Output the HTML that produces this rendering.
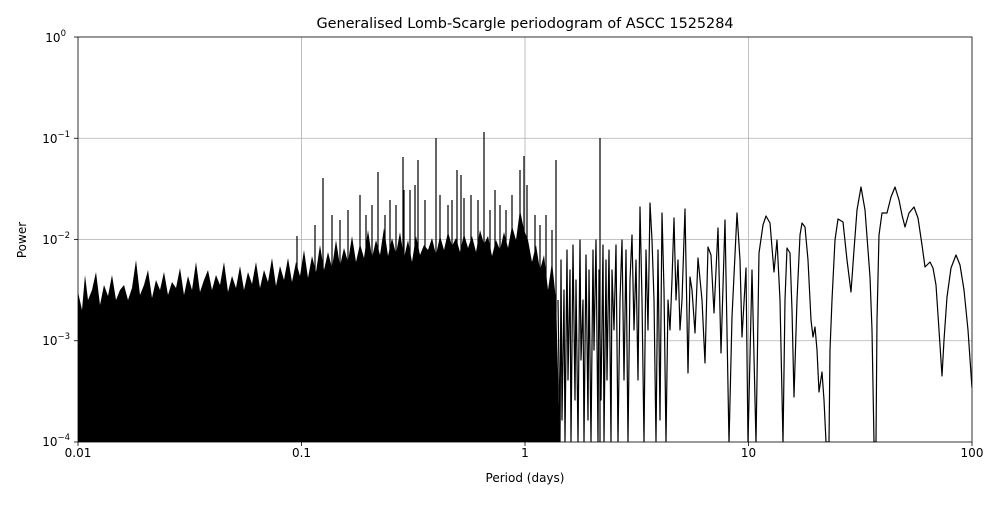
<!DOCTYPE html>
<html><head><meta charset="utf-8"><style>
body{margin:0;background:#fff}
svg text{font-family:"DejaVu Sans","Liberation Sans",sans-serif;font-size:12px;fill:#000}
</style></head><body>
<svg width="1000" height="500" xmlns="http://www.w3.org/2000/svg">
<rect width="1000" height="500" fill="#fff"/>
<g stroke="#b0b0b0" stroke-width="0.8">
<line x1="301.5" y1="37" x2="301.5" y2="442"/><line x1="525" y1="37" x2="525" y2="442"/><line x1="748.5" y1="37" x2="748.5" y2="442"/>
<line x1="78" y1="138.25" x2="972" y2="138.25"/><line x1="78" y1="239.5" x2="972" y2="239.5"/><line x1="78" y1="340.75" x2="972" y2="340.75"/>
</g>
<clipPath id="c"><rect x="78" y="37" width="894" height="405"/></clipPath>
<g clip-path="url(#c)">
<polygon fill="#000" points="78,442 78,292 82,310 85,275 88,300 92,290 96,272 100,305 104,285 108,296 112,275 116,300 120,290 124,285 128,300 132,288 136,260 140,295 144,285 148,270 152,298 156,280 160,290 164,272 168,295 172,282 176,288 180,268 184,295 188,276 192,290 196,262 200,292 204,280 208,270 212,290 216,275 220,285 224,262 228,292 232,276 236,288 240,266 244,290 248,272 252,284 256,262 260,288 264,270 268,282 272,258 276,286 280,266 284,280 288,258 292,282 296,262 300,276 304,250 308,278 312,256 316,272 320,245 324,270 328,252 332,268 336,240 340,266 344,248 348,262 352,236 356,262 360,244 364,258 368,230 372,258 376,240 380,255 384,228 388,256 392,238 396,254 400,232 404,258 408,240 412,262 416,236 420,255 424,245 428,250 432,238 436,255 440,236 444,250 448,232 452,246 456,238 460,252 464,234 468,248 472,236 476,252 480,230 484,244 488,236 492,256 496,240 500,250 504,232 508,248 512,226 516,240 520,210 524,230 528,240 532,262 536,245 540,270 544,255 548,290 552,262 556,300 560,442"/>
<path fill="none" stroke="#000" stroke-width="1.2" d="M297 442V236M323 442V178M332 442V215M348 442V210M360 442V195M372 442V205M378 442V172M390 442V200M403 442V157M410 442V190M415 442V185M425 442V200M436 442V138M457 442V170M484 442V132M524 442V156M556 442V160M600 442V138M471 442V195M448 442V205M418 442V160M440 442V195M452 442V200M461 442V175M464 442V198M478 442V200M490 442V210M495 442V190M500 442V205M506 442V210M512 442V195M520 442V170M527 442V185M535 442V215M540 442V225M546 442V215M552 442V230M404 442V190M396 442V205M385 442V215M366 442V215M340 442V220M315 442V225"/>
<path fill="none" stroke="#000" stroke-width="1.2" stroke-linejoin="round" d="M558,300 L560,442 L561,260 L562,420 L564,290 L565,442 L567,250 L568,380 L570,270 L571,442 L573,245 L575,400 L576,280 L578,442 L580,240 L581,360 L583,300 L584,442 L586,255 L588,420 L589,270 L591,442 L593,250 L594,350 L596,240 L598,442 L599,270 L601,400 L603,245 L604,442 L606,260 L607,380 L609,250 L611,442 L612,270 L614,330 L616,245 L618,442 L620,300 L622,240 L624,380 L626,250 L628,442 L630,280 L632,235 L634,330 L636,260 L638,380 L640,207 L642,300 L644,442 L646,250 L648,330 L650,203 L652,240 L654,300 L656,442 L658,250 L660,420 L662,213 L664,290 L666,442 L668,300 L670,330 L672,280 L674,218 L676,300 L678,260 L680,330 L682,300 L685,209 L688,373 L690,277 L692,290 L695,333 L698,258 L702,300 L705,363 L708,247 L711,255 L714,313 L718,228 L721,353 L725,220 L729,443 L732,317 L737,213 L740,260 L742,337 L746,268 L748,443 L752,270 L756,443 L759,253 L763,225 L766,216 L770,223 L774,272 L777,240 L780,300 L783,443 L785,300 L787,248 L790,253 L792,310 L794,397 L797,300 L800,235 L802,223 L805,227 L808,260 L811,320 L813,337 L815,327 L817,350 L819,392 L822,372 L824,400 L826,442 L829,442 L830,350 L832,300 L835,240 L838,219 L843,222 L847,260 L851,292 L854,250 L857,210 L861,187 L865,210 L868,250 L870,277 L872,330 L874,442 L876,442 L877,320 L879,235 L882,213 L887,213 L891,197 L895,187 L899,200 L902,215 L905,227 L909,213 L914,207 L918,218 L922,245 L925,267 L930,262 L933,268 L936,285 L939,330 L942,376 L944,340 L947,297 L951,268 L956,255 L960,265 L964,290 L968,330 L972,388"/>
</g>
<rect x="78" y="37" width="894" height="405" fill="none" stroke="#000" stroke-width="0.8"/>
<g stroke="#000" stroke-width="0.8">
<line x1="78" y1="442" x2="78" y2="446"/><line x1="301.5" y1="442" x2="301.5" y2="446"/><line x1="525" y1="442" x2="525" y2="446"/><line x1="748.5" y1="442" x2="748.5" y2="446"/><line x1="972" y1="442" x2="972" y2="446"/>
<line x1="74" y1="442" x2="78" y2="442"/><line x1="74" y1="340.75" x2="78" y2="340.75"/><line x1="74" y1="239.5" x2="78" y2="239.5"/><line x1="74" y1="138.25" x2="78" y2="138.25"/><line x1="74" y1="37" x2="78" y2="37"/>
</g>
<g text-anchor="middle">
<text x="78" y="457">0.01</text><text x="301.5" y="457">0.1</text><text x="525" y="457">1</text><text x="748.5" y="457">10</text><text x="972" y="457">100</text>
<text x="525" y="482">Period (days)</text>
<text x="525" y="28" style="font-size:14.4px">Generalised Lomb-Scargle periodogram of ASCC 1525284</text>
</g>
<g text-anchor="end">
<text x="70" y="446">10<tspan dy="-6" font-size="8.5">−4</tspan></text>
<text x="70" y="345">10<tspan dy="-6" font-size="8.5">−3</tspan></text>
<text x="70" y="244">10<tspan dy="-6" font-size="8.5">−2</tspan></text>
<text x="70" y="143">10<tspan dy="-6" font-size="8.5">−1</tspan></text>
<text x="66" y="42">10<tspan dy="-6" font-size="8.5">0</tspan></text>
</g>
<text transform="translate(26,240) rotate(-90)" text-anchor="middle">Power</text>
</svg>
</body></html>
